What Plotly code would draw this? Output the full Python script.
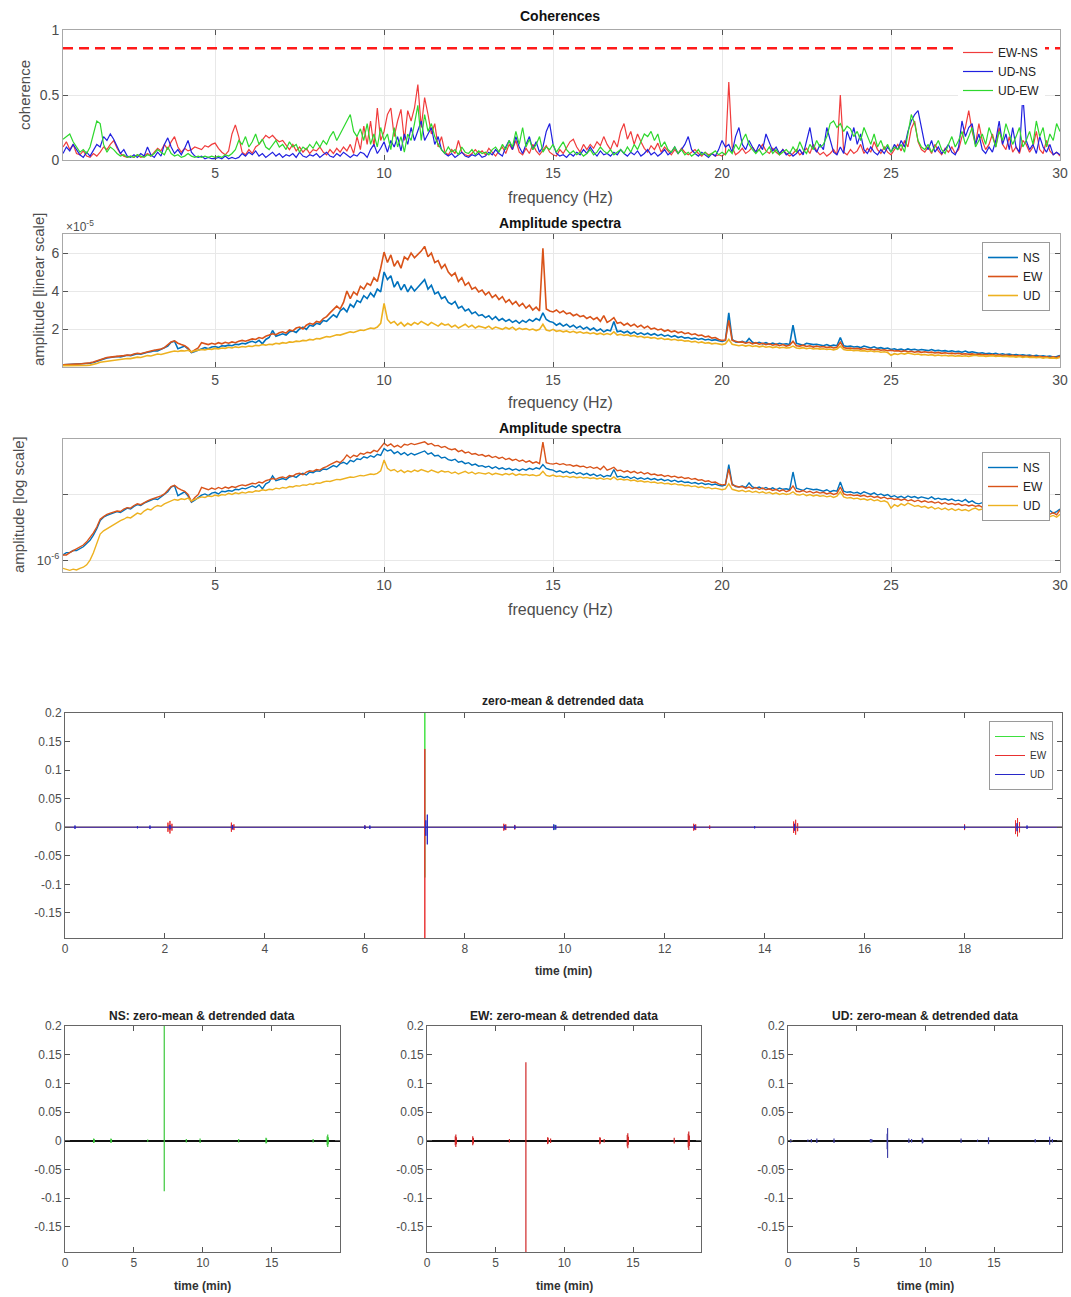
import numpy as np
import plotly.graph_objects as go

W, H = 1071, 1297

# frequency grid of the spectra (Hz)
freq_hz = np.round(np.arange(0.5, 30.0001, 0.1), 1)

# coherences
coh_ew_ns = [
    0.10, 0.14, 0.08, 0.12, 0.05,
    0.04, 0.07, 0.03, 0.02, 0.05, 0.03, 0.06, 0.10, 0.08, 0.12,
    0.15, 0.09, 0.05, 0.03, 0.02, 0.03, 0.02, 0.04, 0.02, 0.03,
    0.05, 0.03, 0.06, 0.09, 0.07, 0.12, 0.08, 0.14, 0.18, 0.10,
    0.06, 0.09, 0.07, 0.08, 0.10, 0.09, 0.08, 0.11, 0.10, 0.12,
    0.13, 0.09, 0.06, 0.04, 0.07, 0.20, 0.27, 0.18, 0.06, 0.04,
    0.08, 0.05, 0.10, 0.12, 0.16, 0.19, 0.17, 0.19, 0.16, 0.14,
    0.15, 0.11, 0.08, 0.12, 0.07, 0.10, 0.06, 0.09, 0.05, 0.08,
    0.07, 0.10, 0.06, 0.04, 0.08, 0.05, 0.09, 0.06, 0.10, 0.07,
    0.12, 0.05, 0.18, 0.08, 0.26, 0.12, 0.30, 0.10, 0.40, 0.15,
    0.22, 0.35, 0.40, 0.18, 0.30, 0.39, 0.15, 0.38, 0.30, 0.40,
    0.58, 0.25, 0.48, 0.35, 0.20, 0.28, 0.10, 0.18, 0.06, 0.04,
    0.08, 0.05, 0.15, 0.06, 0.04, 0.03, 0.05, 0.08, 0.05, 0.07,
    0.04, 0.09, 0.06, 0.03, 0.07, 0.10, 0.05, 0.12, 0.08, 0.15,
    0.06, 0.04, 0.09, 0.05, 0.12, 0.07, 0.04, 0.08, 0.11, 0.06,
    0.04, 0.03, 0.08, 0.05, 0.10, 0.14, 0.16, 0.10, 0.06, 0.12,
    0.08, 0.12, 0.09, 0.14, 0.11, 0.18, 0.12, 0.08, 0.15, 0.10,
    0.22, 0.28, 0.16, 0.22, 0.12, 0.20, 0.14, 0.09, 0.06, 0.11,
    0.08, 0.13, 0.06, 0.10, 0.07, 0.04, 0.08, 0.05, 0.09, 0.06,
    0.04, 0.06, 0.08, 0.05, 0.03, 0.06, 0.04, 0.05, 0.03, 0.04,
    0.03, 0.05, 0.60, 0.10, 0.04, 0.06, 0.09, 0.05, 0.07, 0.10,
    0.06, 0.08, 0.12, 0.07, 0.05, 0.09, 0.06, 0.04, 0.08, 0.05,
    0.03, 0.05, 0.08, 0.04, 0.06, 0.09, 0.05, 0.12, 0.07, 0.04,
    0.06, 0.03, 0.05, 0.08, 0.04, 0.50, 0.06, 0.04, 0.08, 0.05,
    0.07, 0.12, 0.05, 0.09, 0.06, 0.14, 0.08, 0.05, 0.10, 0.06,
    0.04, 0.08, 0.12, 0.07, 0.15, 0.10, 0.24, 0.30, 0.14, 0.08,
    0.06, 0.10, 0.05, 0.12, 0.07, 0.04, 0.09, 0.06, 0.10, 0.05,
    0.08, 0.18, 0.25, 0.38, 0.22, 0.12, 0.28, 0.15, 0.08, 0.12,
    0.20, 0.10, 0.25, 0.12, 0.08, 0.18, 0.06, 0.10, 0.05, 0.15,
    0.12, 0.06, 0.10, 0.22, 0.08, 0.05, 0.15, 0.07, 0.04, 0.06,
    0.03,
]
coh_ud_ns = [
    0.05, 0.10, 0.07, 0.12, 0.08,
    0.04, 0.02, 0.06, 0.03, 0.08, 0.12, 0.10, 0.18, 0.15, 0.20,
    0.16, 0.10, 0.05, 0.08, 0.03, 0.02, 0.04, 0.02, 0.05, 0.03,
    0.10, 0.04, 0.02, 0.06, 0.03, 0.12, 0.17, 0.10, 0.05, 0.08,
    0.04, 0.09, 0.15, 0.06, 0.03, 0.02, 0.03, 0.01, 0.02, 0.01,
    0.01, 0.02, 0.01, 0.03, 0.01, 0.02, 0.01, 0.02, 0.05, 0.03,
    0.06, 0.04, 0.07, 0.03, 0.05, 0.02, 0.04, 0.06, 0.03, 0.05,
    0.02, 0.04, 0.03, 0.05, 0.02, 0.06, 0.03, 0.02, 0.04, 0.03,
    0.05, 0.02, 0.04, 0.06, 0.03, 0.02, 0.05, 0.03, 0.06, 0.04,
    0.02, 0.04, 0.03, 0.06, 0.05, 0.02, 0.08, 0.12, 0.05, 0.09,
    0.14, 0.06, 0.15, 0.10, 0.18, 0.07, 0.20, 0.12, 0.25, 0.15,
    0.22, 0.30, 0.15, 0.20, 0.25, 0.12, 0.18, 0.08, 0.05, 0.03,
    0.05, 0.02, 0.04, 0.06, 0.03, 0.02, 0.04, 0.03, 0.05, 0.02,
    0.03, 0.06, 0.04, 0.08, 0.05, 0.03, 0.10, 0.15, 0.08, 0.18,
    0.10, 0.05, 0.12, 0.18, 0.08, 0.14, 0.06, 0.10, 0.22, 0.28,
    0.12, 0.05, 0.03, 0.04, 0.02, 0.05, 0.03, 0.06, 0.04, 0.08,
    0.05, 0.10, 0.06, 0.03, 0.07, 0.04, 0.05, 0.03, 0.06, 0.04,
    0.08, 0.05, 0.03, 0.06, 0.04, 0.07, 0.03, 0.05, 0.08, 0.04,
    0.06, 0.03, 0.05, 0.08, 0.04, 0.06, 0.10, 0.05, 0.08, 0.12,
    0.18, 0.08, 0.05, 0.03, 0.06, 0.04, 0.02, 0.05, 0.03, 0.08,
    0.15, 0.10, 0.12, 0.06, 0.18, 0.25, 0.12, 0.08, 0.15, 0.10,
    0.06, 0.12, 0.08, 0.20, 0.14, 0.07, 0.10, 0.05, 0.08, 0.04,
    0.06, 0.03, 0.05, 0.08, 0.04, 0.15, 0.25, 0.10, 0.06, 0.12,
    0.08, 0.25, 0.15, 0.06, 0.04, 0.10, 0.05, 0.22, 0.15, 0.25,
    0.12, 0.20, 0.08, 0.05, 0.10, 0.06, 0.04, 0.08, 0.05, 0.10,
    0.06, 0.12, 0.08, 0.15, 0.10, 0.22, 0.30, 0.35, 0.38, 0.25,
    0.12, 0.08, 0.15, 0.06, 0.10, 0.05, 0.08, 0.12, 0.06, 0.04,
    0.10, 0.30, 0.18, 0.25, 0.28, 0.12, 0.20, 0.08, 0.05, 0.10,
    0.06, 0.15, 0.30, 0.12, 0.20, 0.08, 0.25, 0.10, 0.06, 0.50,
    0.15, 0.08, 0.12, 0.05, 0.18, 0.10, 0.06, 0.12, 0.04, 0.06,
    0.04,
]
coh_ud_ew = [
    0.16, 0.18, 0.20, 0.14, 0.10,
    0.06, 0.08, 0.05, 0.10, 0.20, 0.30, 0.28, 0.12, 0.06, 0.10,
    0.08, 0.05, 0.03, 0.04, 0.02, 0.03, 0.02, 0.04, 0.03, 0.02,
    0.04, 0.03, 0.05, 0.08, 0.06, 0.04, 0.10, 0.05, 0.03, 0.04,
    0.02, 0.03, 0.05, 0.03, 0.02, 0.03, 0.02, 0.03, 0.02, 0.03,
    0.02, 0.03, 0.02, 0.04, 0.03, 0.05, 0.08, 0.15, 0.12, 0.18,
    0.10, 0.14, 0.20, 0.12, 0.16, 0.10, 0.08, 0.12, 0.15, 0.10,
    0.12, 0.08, 0.14, 0.10, 0.12, 0.06, 0.10, 0.08, 0.12, 0.09,
    0.14, 0.10, 0.15, 0.12, 0.18, 0.22, 0.15, 0.20, 0.25, 0.30,
    0.35, 0.22, 0.18, 0.24, 0.15, 0.28, 0.12, 0.20, 0.10, 0.25,
    0.15, 0.20, 0.08, 0.25, 0.10, 0.18, 0.06, 0.20, 0.15, 0.28,
    0.42, 0.15, 0.35, 0.22, 0.28, 0.18, 0.12, 0.08, 0.05, 0.10,
    0.06, 0.08, 0.04, 0.10, 0.06, 0.05, 0.08, 0.04, 0.07, 0.05,
    0.06, 0.04, 0.08, 0.10, 0.06, 0.12, 0.08, 0.15, 0.10, 0.22,
    0.12, 0.25, 0.10, 0.16, 0.08, 0.12, 0.18, 0.06, 0.10, 0.08,
    0.12, 0.06, 0.10, 0.14, 0.08, 0.05, 0.07, 0.04, 0.06, 0.03,
    0.05, 0.08, 0.04, 0.06, 0.10, 0.07, 0.05, 0.08, 0.04, 0.06,
    0.08, 0.05, 0.10, 0.06, 0.12, 0.08, 0.14, 0.20, 0.18, 0.22,
    0.15, 0.20, 0.10, 0.14, 0.08, 0.06, 0.10, 0.05, 0.08, 0.04,
    0.06, 0.03, 0.05, 0.08, 0.04, 0.06, 0.03, 0.05, 0.07, 0.04,
    0.06, 0.04, 0.08, 0.05, 0.12, 0.08, 0.15, 0.20, 0.12, 0.08,
    0.05, 0.08, 0.04, 0.06, 0.10, 0.05, 0.08, 0.04, 0.06, 0.08,
    0.05, 0.10, 0.06, 0.14, 0.08, 0.05, 0.12, 0.08, 0.15, 0.10,
    0.12, 0.18, 0.28, 0.30, 0.25, 0.28, 0.22, 0.26, 0.24, 0.18,
    0.22, 0.15, 0.25, 0.18, 0.12, 0.20, 0.10, 0.15, 0.08, 0.12,
    0.06, 0.10, 0.08, 0.12, 0.06, 0.20, 0.35, 0.28, 0.15, 0.10,
    0.08, 0.12, 0.06, 0.10, 0.15, 0.08, 0.05, 0.12, 0.18, 0.10,
    0.15, 0.22, 0.12, 0.18, 0.25, 0.10, 0.15, 0.20, 0.12, 0.25,
    0.18, 0.10, 0.22, 0.15, 0.28, 0.20, 0.12, 0.18, 0.25, 0.10,
    0.15, 0.22, 0.12, 0.30, 0.18, 0.25, 0.10, 0.20, 0.15, 0.28,
    0.22,
]
coherence_threshold = 0.86

# amplitude spectra, in units of 1e-5
amp_ns = [
    0.12, 0.13, 0.13, 0.14, 0.14,
    0.15, 0.16, 0.18, 0.20, 0.24, 0.30, 0.40, 0.45, 0.48, 0.50,
    0.52, 0.55, 0.53, 0.58, 0.62, 0.60, 0.66, 0.70, 0.68, 0.74,
    0.78, 0.80, 0.86, 0.84, 0.92, 0.98, 1.10, 1.30, 1.36, 0.96,
    1.02, 1.10, 0.95, 0.76, 0.82, 0.90, 0.98, 1.02, 0.96, 1.05,
    1.08, 1.02, 1.12, 1.10, 1.15, 1.12, 1.20, 1.18, 1.25, 1.22,
    1.30, 1.35, 1.28, 1.40, 1.22, 1.45, 1.55, 1.92, 1.62, 1.70,
    1.75, 1.68, 1.85, 1.90, 1.82, 2.00, 2.10, 1.98, 2.20, 2.15,
    2.30, 2.25, 2.45, 2.40, 2.60, 2.75, 2.62, 2.95, 3.10, 2.90,
    3.30, 3.15, 3.50, 3.40, 3.75, 3.60, 3.90, 3.70, 4.10, 3.95,
    5.00, 4.60, 4.80, 4.20, 4.50, 4.05, 4.35, 3.95, 4.25, 4.00,
    4.20, 4.40, 4.60, 4.10, 4.30, 3.85, 3.95, 3.60, 3.70, 3.40,
    3.30, 3.45, 3.10, 3.20, 2.95, 3.05, 2.80, 2.90, 2.70, 2.75,
    2.60, 2.70, 2.50, 2.65, 2.45, 2.55, 2.40, 2.50, 2.35, 2.45,
    2.30, 2.45, 2.35, 2.50, 2.40, 2.55, 2.45, 2.85, 2.50, 2.40,
    2.35, 2.20, 2.30, 2.15, 2.25, 2.10, 2.20, 2.05, 2.15, 2.00,
    2.10, 1.95, 2.05, 1.90, 2.00, 1.85, 1.95, 1.90, 2.40, 1.85,
    1.90, 1.80, 1.88, 1.75, 1.85, 1.72, 1.80, 1.70, 1.78, 1.68,
    1.75, 1.65, 1.72, 1.62, 1.68, 1.58, 1.65, 1.55, 1.60, 1.52,
    1.55, 1.48, 1.52, 1.45, 1.50, 1.42, 1.46, 1.40, 1.44, 1.38,
    1.35, 1.40, 2.85, 1.45, 1.32, 1.30, 1.35, 1.28, 1.50, 1.30,
    1.25, 1.30, 1.22, 1.28, 1.20, 1.26, 1.18, 1.25, 1.20, 1.22,
    1.18, 2.20, 1.25, 1.20, 1.15, 1.25, 1.22, 1.18, 1.20, 1.15,
    1.12, 1.18, 1.10, 1.15, 1.12, 1.55, 1.12, 1.08, 1.10, 1.05,
    1.08, 1.02, 1.10, 1.05, 1.00, 1.06, 0.98, 1.02, 0.96, 1.00,
    0.92, 0.96, 0.90, 0.94, 0.88, 0.95, 0.90, 0.93, 0.88, 0.92,
    0.90, 0.86, 0.92, 0.85, 0.88, 0.84, 0.86, 0.82, 0.85, 0.80,
    0.82, 0.78, 0.84, 0.76, 0.80, 0.74, 0.72, 0.75, 0.70, 0.72,
    0.68, 0.72, 0.66, 0.70, 0.65, 0.68, 0.63, 0.66, 0.62, 0.64,
    0.60, 0.63, 0.58, 0.61, 0.56, 0.59, 0.55, 0.57, 0.52, 0.55,
    0.60,
]
amp_ew = [
    0.12, 0.12, 0.13, 0.14, 0.15,
    0.16, 0.17, 0.19, 0.22, 0.26, 0.32, 0.42, 0.46, 0.50, 0.52,
    0.54, 0.56, 0.55, 0.60, 0.63, 0.62, 0.68, 0.72, 0.70, 0.76,
    0.80, 0.84, 0.88, 0.90, 0.95, 1.02, 1.15, 1.32, 1.38, 1.25,
    1.18, 1.12, 1.00, 0.78, 0.90, 1.00, 1.28, 1.22, 1.18, 1.25,
    1.20, 1.28, 1.22, 1.30, 1.25, 1.32, 1.28, 1.35, 1.40, 1.36,
    1.42, 1.48, 1.45, 1.55, 1.50, 1.62, 1.68, 1.75, 1.70, 1.80,
    1.85, 1.78, 1.95, 1.90, 2.05, 2.10, 2.00, 2.20, 2.30, 2.25,
    2.40, 2.35, 2.55, 2.65, 2.85, 3.00, 3.20, 3.05, 3.40, 4.00,
    3.60, 3.95, 3.80, 4.25, 4.10, 4.40, 4.30, 4.70, 4.50, 5.20,
    6.05, 5.50, 5.90, 5.30, 5.60, 5.20, 5.80, 5.65, 6.00, 5.75,
    5.90, 6.10, 6.35, 5.80, 6.00, 5.50, 5.60, 5.20, 5.40, 5.00,
    4.80, 4.95, 4.50, 4.70, 4.30, 4.45, 4.10, 4.20, 3.95, 4.05,
    3.80, 3.95, 3.65, 3.80, 3.55, 3.70, 3.40, 3.55, 3.30, 3.45,
    3.20, 3.35, 3.10, 3.25, 3.00, 3.15, 2.95, 6.25, 3.05, 2.95,
    2.90, 3.00, 2.85, 2.95, 2.80, 2.85, 2.70, 2.78, 2.65, 2.70,
    2.55, 2.65, 2.50, 2.60, 2.40, 2.70, 2.35, 2.45, 2.60, 2.30,
    2.35, 2.20, 2.30, 2.15, 2.25, 2.10, 2.20, 2.05, 2.15, 2.00,
    2.05, 1.95, 2.00, 1.88, 1.95, 1.85, 1.90, 1.80, 1.85, 1.75,
    1.80, 1.70, 1.75, 1.65, 1.68, 1.58, 1.62, 1.52, 1.55, 1.45,
    1.40, 1.42, 2.45, 1.40, 1.35, 1.30, 1.32, 1.25, 1.30, 1.22,
    1.28, 1.20, 1.25, 1.18, 1.22, 1.15, 1.20, 1.12, 1.18, 1.10,
    1.15, 1.35, 1.12, 1.10, 1.15, 1.08, 1.12, 1.05, 1.10, 1.05,
    1.08, 1.02, 1.06, 1.00, 1.04, 1.30, 1.02, 0.98, 1.00, 0.96,
    0.98, 0.94, 0.97, 0.92, 0.95, 0.90, 0.93, 0.88, 0.91, 0.86,
    0.88, 0.84, 0.86, 0.82, 0.85, 0.80, 0.83, 0.78, 0.82, 0.77,
    0.80, 0.76, 0.78, 0.74, 0.77, 0.72, 0.75, 0.71, 0.73, 0.70,
    0.72, 0.68, 0.70, 0.67, 0.69, 0.66, 0.68, 0.64, 0.66, 0.63,
    0.65, 0.62, 0.64, 0.60, 0.63, 0.59, 0.61, 0.58, 0.60, 0.56,
    0.58, 0.55, 0.57, 0.53, 0.56, 0.52, 0.54, 0.50, 0.53, 0.49,
    0.58,
]
amp_ud = [
    0.075, 0.072, 0.070, 0.073, 0.071,
    0.075, 0.078, 0.085, 0.10, 0.13, 0.18, 0.25, 0.28, 0.30, 0.33,
    0.35, 0.38, 0.40, 0.42, 0.45, 0.44, 0.48, 0.52, 0.50, 0.56,
    0.60, 0.58, 0.64, 0.68, 0.66, 0.72, 0.76, 0.80, 0.84, 0.82,
    0.86, 0.84, 0.88, 0.80, 0.85, 0.88, 0.92, 0.90, 0.95, 0.93,
    0.98, 0.95, 1.00, 0.98, 1.04, 1.00, 1.06, 1.03, 1.08, 1.05,
    1.10, 1.08, 1.14, 1.12, 1.18, 1.15, 1.20, 1.18, 1.25, 1.22,
    1.28, 1.25, 1.32, 1.30, 1.36, 1.34, 1.40, 1.38, 1.45, 1.42,
    1.50, 1.48, 1.55, 1.60, 1.58, 1.65, 1.70, 1.68, 1.75, 1.80,
    1.85, 1.82, 1.90, 1.95, 1.92, 2.00, 2.05, 2.02, 2.10, 2.30,
    3.35, 2.50, 2.30, 2.40, 2.20, 2.35, 2.15, 2.30, 2.20, 2.35,
    2.25, 2.40, 2.30, 2.20, 2.35, 2.25, 2.15, 2.30, 2.20, 2.25,
    2.10, 2.20, 2.05, 2.15, 2.25, 2.10, 2.20, 2.05, 2.15, 2.10,
    2.05, 2.15, 2.00, 2.10, 2.05, 1.98, 2.08, 2.00, 2.10, 1.95,
    2.05, 1.98, 2.02, 1.95, 2.00, 1.92, 1.98, 2.25, 1.95, 1.90,
    1.98, 1.88, 1.92, 1.85, 1.90, 1.82, 1.88, 1.80, 1.85, 1.78,
    1.82, 1.75, 1.80, 1.72, 1.78, 1.70, 1.76, 1.70, 1.85, 1.68,
    1.72, 1.66, 1.70, 1.62, 1.66, 1.58, 1.62, 1.55, 1.58, 1.52,
    1.55, 1.48, 1.52, 1.45, 1.48, 1.42, 1.46, 1.40, 1.42, 1.36,
    1.38, 1.32, 1.35, 1.28, 1.32, 1.25, 1.28, 1.22, 1.25, 1.20,
    1.18, 1.22, 1.45, 1.20, 1.15, 1.12, 1.16, 1.10, 1.14, 1.08,
    1.12, 1.06, 1.10, 1.04, 1.08, 1.02, 1.06, 1.00, 1.04, 1.00,
    1.02, 1.10, 1.00, 0.98, 1.02, 0.96, 1.00, 0.95, 0.98, 0.94,
    0.96, 0.92, 0.95, 0.90, 0.94, 1.10, 0.92, 0.88, 0.90, 0.86,
    0.88, 0.84, 0.86, 0.82, 0.85, 0.80, 0.83, 0.78, 0.80, 0.76,
    0.62, 0.70, 0.66, 0.72, 0.68, 0.74, 0.70, 0.66, 0.68, 0.64,
    0.66, 0.62, 0.65, 0.60, 0.63, 0.59, 0.62, 0.58, 0.61, 0.57,
    0.60, 0.57, 0.59, 0.56, 0.60, 0.62, 0.58, 0.60, 0.56, 0.58,
    0.60, 0.56, 0.58, 0.55, 0.57, 0.54, 0.56, 0.52, 0.55, 0.51,
    0.54, 0.50, 0.52, 0.49, 0.51, 0.47, 0.50, 0.46, 0.48, 0.45,
    0.50,
]
for arr in (coh_ew_ns, coh_ud_ns, coh_ud_ew, amp_ns, amp_ew, amp_ud):
    assert len(arr) == len(freq_hz), len(arr)

# time records: bursts as (time in min, peak, trough)
record_min = 19.95
ns_t = [2.08, 2.12, 3.33, 3.37, 6.0, 7.2, 8.8, 9.8, 12.6, 14.58, 14.62, 18.0, 19.02, 19.06, 19.1]
ns_up = [0.004, 0.003, 0.004, 0.003, 0.002, 0.25, 0.003, 0.004, 0.003, 0.005, 0.004, 0.003, 0.008, 0.011, 0.006]
ns_dn = [-0.004, -0.003, -0.004, -0.003, -0.002, -0.088, -0.003, -0.004, -0.003, -0.005, -0.004, -0.003, -0.008, -0.011, -0.006]

ew_t = [2.06, 2.1, 2.14, 3.33, 3.38, 6.0, 7.2, 8.78, 8.82, 9.0, 12.58, 12.62, 12.9, 14.58, 14.62, 14.66, 18.0, 19.02, 19.06, 19.1]
ew_up = [0.008, 0.011, 0.006, 0.008, 0.005, 0.003, 0.137, 0.006, 0.005, 0.004, 0.006, 0.005, 0.003, 0.010, 0.013, 0.007, 0.005, 0.012, 0.016, 0.009]
ew_dn = [-0.008, -0.011, -0.006, -0.008, -0.005, -0.003, -0.25, -0.006, -0.005, -0.004, -0.006, -0.005, -0.003, -0.010, -0.013, -0.007, -0.005, -0.012, -0.016, -0.009]

ud_t = [0.2, 1.45, 1.7, 2.1, 3.35, 6.0, 6.1, 7.22, 7.25, 8.8, 9.0, 9.78, 9.82, 12.6, 13.8, 14.6, 18.0, 19.05, 19.25]
ud_up = [0.003, 0.002, 0.003, 0.004, 0.004, 0.003, 0.003, 0.012, 0.022, 0.004, 0.003, 0.005, 0.004, 0.004, 0.002, 0.006, 0.003, 0.007, 0.003]
ud_dn = [-0.003, -0.002, -0.003, -0.004, -0.004, -0.003, -0.003, -0.015, -0.030, -0.004, -0.003, -0.005, -0.004, -0.004, -0.002, -0.006, -0.003, -0.007, -0.003]

ts_ticks = [-0.15, -0.1, -0.05, 0, 0.05, 0.1, 0.15, 0.2]
ts_ticktext = ["-0.15", "-0.1", "-0.05", "0", "0.05", "0.1", "0.15", "0.2"]

C_NS, C_EW, C_UD = "#0072BD", "#D95319", "#EDB120"
FONT = "Liberation Sans, Arial, sans-serif"


def px(x):
    return x / W


def py(y):
    return 1 - y / H


def dom_x(a, b):
    return [px(a), px(b)]


def dom_y(top, bottom):
    return [py(bottom), py(top)]


def wiggle(times, ups, downs, end):
    xs, ys = [0.0], [0.0]
    for t, u, d in zip(times, ups, downs):
        xs += [t, t, t, t]
        ys += [0, u, d, 0]
    xs.append(end)
    ys.append(0)
    return xs, ys


def spikes(times, ups, downs):
    xs, ys = [], []
    for t, u, d in zip(times, ups, downs):
        xs += [t, t, None]
        ys += [u, d, None]
    return xs, ys


fig = go.Figure()

# coherences
for vals, name, col in [(coh_ew_ns, "EW-NS", "#f03c3c"), (coh_ud_ns, "UD-NS", "#2020e0"),
                        (coh_ud_ew, "UD-EW", "#2ed82e")]:
    fig.add_trace(go.Scatter(x=freq_hz, y=vals, name=name, mode="lines",
                             line=dict(color=col, width=1.2), xaxis="x", yaxis="y", legend="legend"))

# amplitude spectra (linear and log)
amp_scale = 1e-5
for vals, name, col in [(amp_ns, "NS", C_NS), (amp_ew, "EW", C_EW), (amp_ud, "UD", C_UD)]:
    fig.add_trace(go.Scatter(x=freq_hz, y=vals, name=name, mode="lines",
                             line=dict(color=col, width=1.6), xaxis="x2", yaxis="y2", legend="legend2"))
for vals, name, col in [(amp_ns, "NS", C_NS), (amp_ew, "EW", C_EW), (amp_ud, "UD", C_UD)]:
    fig.add_trace(go.Scatter(x=freq_hz, y=np.array(vals) * amp_scale, name=name, mode="lines",
                             line=dict(color=col, width=1.4), xaxis="x3", yaxis="y3", legend="legend3"))

# all three records
for (t, u, d), name, col in [((ns_t, ns_up, ns_dn), "NS", "#3ee03e"),
                             ((ew_t, ew_up, ew_dn), "EW", "#e83030"),
                             ((ud_t, ud_up, ud_dn), "UD", "#2828c8")]:
    xs, ys = wiggle(t, u, d, record_min)
    fig.add_trace(go.Scatter(x=xs, y=ys, name=name, mode="lines",
                             line=dict(color=col, width=1), xaxis="x4", yaxis="y4", legend="legend4"))

# single records
for i, ((t, u, d), col) in enumerate([((ns_t, ns_up, ns_dn), "#3cc83c"),
                                      ((ew_t, ew_up, ew_dn), "#d02828"),
                                      ((ud_t, ud_up, ud_dn), "#4040a8")]):
    xs, ys = spikes(t, u, d)
    fig.add_trace(go.Scatter(x=xs, y=ys, mode="lines", showlegend=False,
                             line=dict(color=col, width=1.2), xaxis=f"x{5 + i}", yaxis=f"y{5 + i}"))


def frame(linecolor, size, **kw):
    base = dict(showline=True, linecolor=linecolor, linewidth=1, mirror="ticks", ticks="inside",
                ticklen=5, tickcolor="#555555", tickfont=dict(size=size, color="#4d4d4d", family=FONT),
                zeroline=False, showgrid=False, fixedrange=True, automargin=False)
    base.update(kw)
    return base


grid = dict(showgrid=True, gridcolor="#e8e8e8", gridwidth=1)
freq_ticks = dict(tickvals=[5, 10, 15, 20, 25, 30], range=[0.5, 30])

layout_axes = dict(
    xaxis=frame("#a8a8a8", 14, domain=dom_x(63, 1060), anchor="y", **freq_ticks, **grid),
    yaxis=frame("#a8a8a8", 14, domain=dom_y(30, 160), anchor="x", range=[0, 1],
                tickvals=[0, 0.5, 1], ticktext=["0", "0.5", "1"], **grid),
    xaxis2=frame("#a8a8a8", 14, domain=dom_x(63, 1060), anchor="y2", **freq_ticks, **grid),
    yaxis2=frame("#a8a8a8", 14, domain=dom_y(234, 367), anchor="x2", range=[0, 7],
                 tickvals=[2, 4, 6], **grid),
    xaxis3=frame("#a8a8a8", 14, domain=dom_x(63, 1060), anchor="y3", **freq_ticks, **grid),
    yaxis3=frame("#a8a8a8", 13, domain=dom_y(439, 572), anchor="x3", type="log",
                 range=[np.log10(6.6e-7), np.log10(7e-5)], tickvals=[1e-6],
                 ticktext=["10<sup>-6</sup>"],
                 minor=dict(tickvals=[1e-5], showgrid=True, gridcolor="#e8e8e8",
                            ticks="inside", ticklen=5, tickcolor="#555555"),
                 **grid),
    xaxis4=frame("#666666", 12, domain=dom_x(65, 1062), anchor="y4", range=[0, record_min],
                 tickvals=list(range(0, 20, 2))),
    yaxis4=frame("#666666", 12, domain=dom_y(713, 938), anchor="x4", range=[-0.194, 0.2],
                 tickvals=ts_ticks, ticktext=ts_ticktext),
)
for i, (a, b) in enumerate([(65, 340), (427, 701), (788, 1062)]):
    n = 5 + i
    layout_axes[f"xaxis{n}"] = frame("#666666", 12, domain=dom_x(a, b), anchor=f"y{n}",
                                     range=[0, record_min], tickvals=[0, 5, 10, 15])
    layout_axes[f"yaxis{n}"] = frame("#666666", 12, domain=dom_y(1026, 1252), anchor=f"x{n}",
                                     range=[-0.194, 0.2], tickvals=ts_ticks, ticktext=ts_ticktext,
                                     zeroline=True, zerolinecolor="#111111", zerolinewidth=2)

# threshold line of the coherence panel
fig.add_shape(type="line", xref="x domain", yref="y", x0=0, x1=1,
              y0=coherence_threshold, y1=coherence_threshold,
              line=dict(color="#ff1a1a", width=2.5, dash="10px,6px"))


def note(text, x, y, size=14, bold=False, angle=0, color="#262626", xanchor="center"):
    fig.add_annotation(text=f"<b>{text}</b>" if bold else text, x=px(x), y=py(y), xref="paper",
                       yref="paper", showarrow=False, textangle=angle, xanchor=xanchor,
                       yanchor="middle", font=dict(size=size, color=color, family=FONT))


note("Coherences", 560, 16, 14, bold=True, color="#111111")
note("coherence", 25, 95, 15, angle=-90, color="#4d4d4d")
note("frequency (Hz)", 560, 197, 16, color="#4d4d4d")
note("Amplitude spectra", 560, 223, 14, bold=True, color="#111111")
note("×10<sup>-5</sup>", 64, 226, 12, color="#4d4d4d", xanchor="left")
note("amplitude [linear scale]", 38, 290, 15, angle=-90, color="#4d4d4d")
note("frequency (Hz)", 560, 402, 16, color="#4d4d4d")
note("Amplitude spectra", 560, 428, 14, bold=True, color="#111111")
note("amplitude [log scale]", 18, 505, 15, angle=-90, color="#4d4d4d")
note("frequency (Hz)", 560, 609, 16, color="#4d4d4d")
note("zero-mean &amp; detrended data", 563, 701, 12, bold=True, color="#222222")
note("time (min)", 563, 971, 12, bold=True, color="#333333")
for label, cx in [("NS", 202), ("EW", 564), ("UD", 925)]:
    note(f"{label}: zero-mean &amp; detrended data", cx, 1016, 12, bold=True, color="#222222")
    note("time (min)", cx, 1286, 12, bold=True, color="#333333")

legend_base = dict(xanchor="right", yanchor="top", bgcolor="white", bordercolor="#9a9a9a",
                   borderwidth=1, itemwidth=30, tracegroupgap=0, itemclick=False,
                   font=dict(size=12, color="#222222", family=FONT))

fig.update_layout(
    width=W, height=H,
    margin=dict(l=0, r=0, t=0, b=0),
    paper_bgcolor="white", plot_bgcolor="white",
    font=dict(family=FONT),
    showlegend=True,
    legend=dict(legend_base, x=px(1045), y=py(38), borderwidth=0),
    legend2=dict(legend_base, x=px(1050), y=py(242)),
    legend3=dict(legend_base, x=px(1050), y=py(452)),
    legend4=dict(legend_base, x=px(1053), y=py(721), font=dict(size=10, color="#333333", family=FONT)),
    **layout_axes,
)

# the figure fills the whole window, so drop the page's default body margin
fig.write_html("out.html", config={"displayModeBar": False},
               post_script="document.body.style.margin = '0';")
